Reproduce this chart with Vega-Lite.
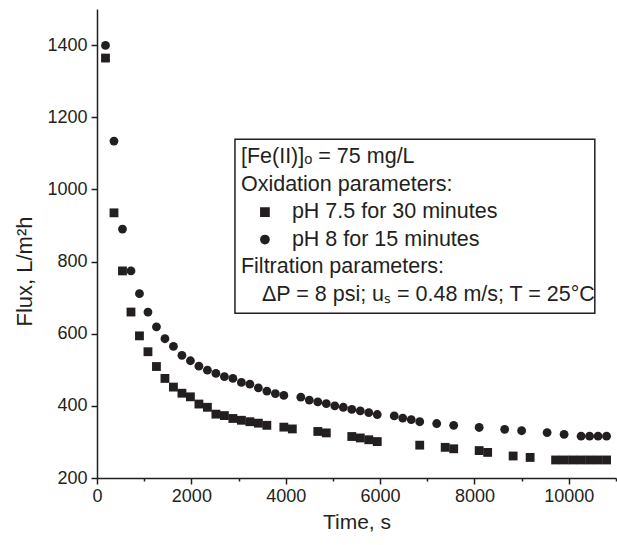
{
  "$schema": "https://vega.github.io/schema/vega-lite/v6.json",
  "width": 519,
  "height": 469,
  "autosize": {"type": "none"},
  "padding": {"left": 97, "top": 9, "right": 1, "bottom": 67},
  "background": "white",
  "config": {"view": {"stroke": null}, "font": "Liberation Sans"},
  "datasets": {
    "pts": [
      {"t": 180, "f": 1364, "s": "pH 7.5 for 30 minutes"},
      {"t": 360, "f": 935, "s": "pH 7.5 for 30 minutes"},
      {"t": 540, "f": 774, "s": "pH 7.5 for 30 minutes"},
      {"t": 720, "f": 660, "s": "pH 7.5 for 30 minutes"},
      {"t": 900, "f": 594, "s": "pH 7.5 for 30 minutes"},
      {"t": 1080, "f": 550, "s": "pH 7.5 for 30 minutes"},
      {"t": 1260, "f": 509, "s": "pH 7.5 for 30 minutes"},
      {"t": 1440, "f": 476, "s": "pH 7.5 for 30 minutes"},
      {"t": 1620, "f": 452, "s": "pH 7.5 for 30 minutes"},
      {"t": 1800, "f": 435, "s": "pH 7.5 for 30 minutes"},
      {"t": 1980, "f": 425, "s": "pH 7.5 for 30 minutes"},
      {"t": 2160, "f": 405, "s": "pH 7.5 for 30 minutes"},
      {"t": 2340, "f": 396, "s": "pH 7.5 for 30 minutes"},
      {"t": 2520, "f": 377, "s": "pH 7.5 for 30 minutes"},
      {"t": 2700, "f": 373, "s": "pH 7.5 for 30 minutes"},
      {"t": 2880, "f": 365, "s": "pH 7.5 for 30 minutes"},
      {"t": 3060, "f": 360, "s": "pH 7.5 for 30 minutes"},
      {"t": 3240, "f": 356, "s": "pH 7.5 for 30 minutes"},
      {"t": 3420, "f": 352, "s": "pH 7.5 for 30 minutes"},
      {"t": 3600, "f": 346, "s": "pH 7.5 for 30 minutes"},
      {"t": 3960, "f": 341, "s": "pH 7.5 for 30 minutes"},
      {"t": 4140, "f": 336, "s": "pH 7.5 for 30 minutes"},
      {"t": 4680, "f": 329, "s": "pH 7.5 for 30 minutes"},
      {"t": 4860, "f": 325, "s": "pH 7.5 for 30 minutes"},
      {"t": 5400, "f": 315, "s": "pH 7.5 for 30 minutes"},
      {"t": 5580, "f": 311, "s": "pH 7.5 for 30 minutes"},
      {"t": 5760, "f": 306, "s": "pH 7.5 for 30 minutes"},
      {"t": 5940, "f": 301, "s": "pH 7.5 for 30 minutes"},
      {"t": 6840, "f": 291, "s": "pH 7.5 for 30 minutes"},
      {"t": 7380, "f": 285, "s": "pH 7.5 for 30 minutes"},
      {"t": 7560, "f": 281, "s": "pH 7.5 for 30 minutes"},
      {"t": 8100, "f": 276, "s": "pH 7.5 for 30 minutes"},
      {"t": 8280, "f": 271, "s": "pH 7.5 for 30 minutes"},
      {"t": 8820, "f": 261, "s": "pH 7.5 for 30 minutes"},
      {"t": 9180, "f": 257, "s": "pH 7.5 for 30 minutes"},
      {"t": 9720, "f": 250, "s": "pH 7.5 for 30 minutes"},
      {"t": 9900, "f": 250, "s": "pH 7.5 for 30 minutes"},
      {"t": 10080, "f": 250, "s": "pH 7.5 for 30 minutes"},
      {"t": 10260, "f": 250, "s": "pH 7.5 for 30 minutes"},
      {"t": 10440, "f": 250, "s": "pH 7.5 for 30 minutes"},
      {"t": 10620, "f": 250, "s": "pH 7.5 for 30 minutes"},
      {"t": 10800, "f": 250, "s": "pH 7.5 for 30 minutes"},
      {"t": 180, "f": 1399, "s": "pH 8 for 15 minutes"},
      {"t": 360, "f": 1134, "s": "pH 8 for 15 minutes"},
      {"t": 540, "f": 890, "s": "pH 8 for 15 minutes"},
      {"t": 720, "f": 774, "s": "pH 8 for 15 minutes"},
      {"t": 900, "f": 711, "s": "pH 8 for 15 minutes"},
      {"t": 1080, "f": 660, "s": "pH 8 for 15 minutes"},
      {"t": 1260, "f": 619, "s": "pH 8 for 15 minutes"},
      {"t": 1440, "f": 586, "s": "pH 8 for 15 minutes"},
      {"t": 1620, "f": 565, "s": "pH 8 for 15 minutes"},
      {"t": 1800, "f": 540, "s": "pH 8 for 15 minutes"},
      {"t": 1980, "f": 525, "s": "pH 8 for 15 minutes"},
      {"t": 2160, "f": 510, "s": "pH 8 for 15 minutes"},
      {"t": 2340, "f": 499, "s": "pH 8 for 15 minutes"},
      {"t": 2520, "f": 490, "s": "pH 8 for 15 minutes"},
      {"t": 2700, "f": 481, "s": "pH 8 for 15 minutes"},
      {"t": 2880, "f": 476, "s": "pH 8 for 15 minutes"},
      {"t": 3060, "f": 465, "s": "pH 8 for 15 minutes"},
      {"t": 3240, "f": 460, "s": "pH 8 for 15 minutes"},
      {"t": 3420, "f": 450, "s": "pH 8 for 15 minutes"},
      {"t": 3600, "f": 441, "s": "pH 8 for 15 minutes"},
      {"t": 3780, "f": 434, "s": "pH 8 for 15 minutes"},
      {"t": 3960, "f": 429, "s": "pH 8 for 15 minutes"},
      {"t": 4320, "f": 424, "s": "pH 8 for 15 minutes"},
      {"t": 4500, "f": 416, "s": "pH 8 for 15 minutes"},
      {"t": 4680, "f": 411, "s": "pH 8 for 15 minutes"},
      {"t": 4860, "f": 406, "s": "pH 8 for 15 minutes"},
      {"t": 5040, "f": 400, "s": "pH 8 for 15 minutes"},
      {"t": 5220, "f": 396, "s": "pH 8 for 15 minutes"},
      {"t": 5400, "f": 390, "s": "pH 8 for 15 minutes"},
      {"t": 5580, "f": 386, "s": "pH 8 for 15 minutes"},
      {"t": 5760, "f": 381, "s": "pH 8 for 15 minutes"},
      {"t": 5940, "f": 376, "s": "pH 8 for 15 minutes"},
      {"t": 6300, "f": 372, "s": "pH 8 for 15 minutes"},
      {"t": 6480, "f": 366, "s": "pH 8 for 15 minutes"},
      {"t": 6660, "f": 362, "s": "pH 8 for 15 minutes"},
      {"t": 6840, "f": 356, "s": "pH 8 for 15 minutes"},
      {"t": 7200, "f": 351, "s": "pH 8 for 15 minutes"},
      {"t": 7560, "f": 346, "s": "pH 8 for 15 minutes"},
      {"t": 8100, "f": 340, "s": "pH 8 for 15 minutes"},
      {"t": 8640, "f": 335, "s": "pH 8 for 15 minutes"},
      {"t": 9000, "f": 331, "s": "pH 8 for 15 minutes"},
      {"t": 9540, "f": 326, "s": "pH 8 for 15 minutes"},
      {"t": 9900, "f": 321, "s": "pH 8 for 15 minutes"},
      {"t": 10260, "f": 316, "s": "pH 8 for 15 minutes"},
      {"t": 10440, "f": 316, "s": "pH 8 for 15 minutes"},
      {"t": 10620, "f": 316, "s": "pH 8 for 15 minutes"},
      {"t": 10800, "f": 316, "s": "pH 8 for 15 minutes"}
    ],
    "box": [{"t": 2924, "t2": 10551, "f": 657, "f2": 1139}],
    "keys": [
      {"t": 3559, "f": 937, "s": "pH 7.5 for 30 minutes"},
      {"t": 3559, "f": 861, "s": "pH 8 for 15 minutes"}
    ],
    "notes": [
      {"t": 3051, "f": 1089, "label": "[Fe(II)]ₒ = 75 mg/L"},
      {"t": 3051, "f": 1013, "label": "Oxidation parameters:"},
      {"t": 4131, "f": 937, "label": "pH 7.5 for 30 minutes"},
      {"t": 4131, "f": 861, "label": "pH 8 for 15 minutes"},
      {"t": 3051, "f": 784, "label": "Filtration parameters:"},
      {"t": 3496, "f": 708, "label": "ΔP = 8 psi; uₛ = 0.48 m/s; T = 25°C"}
    ]
  },
  "layer": [
    {
      "data": {"name": "box"},
      "mark": {"type": "rect", "fill": "white", "stroke": "#231f20", "strokeWidth": 1.5},
      "encoding": {
        "x": {
          "field": "t", "type": "quantitative",
          "scale": {"domain": [0, 11000], "nice": false, "zero": false},
          "axis": {
            "title": "Time, s",
            "values": [0, 1000, 2000, 3000, 4000, 5000, 6000, 7000, 8000, 9000, 10000, 11000],
            "format": "d",
            "labelExpr": "datum.value % 2000 === 0 ? datum.label : ''",
            "tickSize": {"condition": {"test": "datum.value % 2000 === 0", "value": 6}, "value": 3},
            "grid": false,
            "domainColor": "#231f20", "domainWidth": 1.5,
            "tickColor": "#231f20", "tickWidth": 1.5,
            "labelFont": "Liberation Sans", "labelFontSize": 18, "labelColor": "#231f20",
            "labelPadding": 3, "labelFlush": false, "labelOverlap": false,
            "titleFont": "Liberation Sans", "titleFontSize": 21, "titleFontWeight": "normal",
            "titleColor": "#231f20", "titlePadding": 6
          }
        },
        "x2": {"field": "t2"},
        "y": {
          "field": "f", "type": "quantitative",
          "scale": {"domain": [200, 1500], "nice": false, "zero": false},
          "axis": {
            "title": "Flux, L/m²h",
            "values": [200, 300, 400, 500, 600, 700, 800, 900, 1000, 1100, 1200, 1300, 1400, 1500],
            "format": "d",
            "labelExpr": "datum.value % 200 === 0 ? datum.label : ''",
            "tickSize": {"condition": {"test": "datum.value % 200 === 0", "value": 6}, "value": 3},
            "grid": false,
            "domainColor": "#231f20", "domainWidth": 1.5,
            "tickColor": "#231f20", "tickWidth": 1.5,
            "labelFont": "Liberation Sans", "labelFontSize": 18, "labelColor": "#231f20",
            "labelPadding": 4, "labelFlush": false, "labelOverlap": false,
            "titleFont": "Liberation Sans", "titleFontSize": 22, "titleFontWeight": "normal",
            "titleColor": "#231f20", "titlePadding": 10, "titleY": 262
          }
        },
        "y2": {"field": "f2"}
      }
    },
    {
      "data": {"name": "pts"},
      "mark": {"type": "point", "filled": true, "opacity": 1, "color": "#231f20"},
      "encoding": {
        "x": {"field": "t", "type": "quantitative"},
        "y": {"field": "f", "type": "quantitative"},
        "shape": {
          "field": "s", "type": "nominal",
          "scale": {"domain": ["pH 7.5 for 30 minutes", "pH 8 for 15 minutes"], "range": ["square", "circle"]},
          "legend": null
        },
        "size": {
          "field": "s", "type": "nominal",
          "scale": {"domain": ["pH 7.5 for 30 minutes", "pH 8 for 15 minutes"], "range": [78, 78]},
          "legend": null
        }
      }
    },
    {
      "data": {"name": "keys"},
      "mark": {"type": "point", "filled": true, "opacity": 1, "color": "#231f20", "size": 95},
      "encoding": {
        "x": {"field": "t", "type": "quantitative"},
        "y": {"field": "f", "type": "quantitative"},
        "shape": {"field": "s", "type": "nominal", "legend": null}
      }
    },
    {
      "data": {"name": "notes"},
      "mark": {"type": "text", "align": "left", "baseline": "middle", "font": "Liberation Sans", "fontSize": 21.5, "color": "#231f20"},
      "encoding": {
        "x": {"field": "t", "type": "quantitative"},
        "y": {"field": "f", "type": "quantitative"},
        "text": {"field": "label", "type": "nominal"}
      }
    }
  ]
}
